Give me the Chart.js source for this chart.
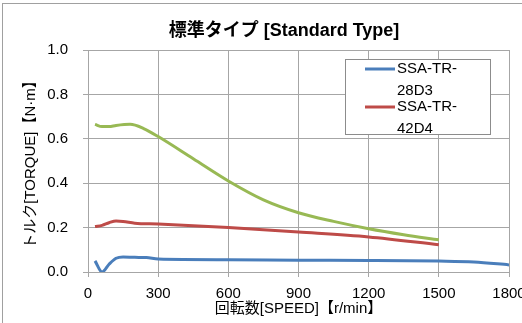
<!DOCTYPE html>
<html>
<head>
<meta charset="utf-8">
<script src="https://cdn.jsdelivr.net/npm/chart.js@4"></script>
<style>
  html, body { margin: 0; padding: 0; background: #fff; overflow: hidden; }
  #wrap { width: 522px; height: 323px; overflow: hidden; position: relative; }
  canvas { display: block; }
</style>
</head>
<body>
<div id="wrap"><canvas id="chart" width="540" height="323"></canvas></div>
<script>
// chart data
const chartTitle = "標準タイプ [Standard Type]";
const xTitle = "回転数[SPEED]【r/min】";
const yTitle = "トルク[TORQUE]【N·m】";
const xTicks = [0, 300, 600, 900, 1200, 1500, 1800];
const yTicks = [0, 0.2, 0.4, 0.6, 0.8, 1.0];

const seriesNames = ["SSA-TR-28D3", "SSA-TR-42D4", ""];
const seriesColors = ["#4a7ebb", "#be4b48", "#98b954"];

const speed28 = [30, 60, 90, 120, 150, 200, 250, 300, 600, 900, 1200, 1500, 1650, 1800];
const torque28 = [0.05, 0.0, 0.035, 0.062, 0.068, 0.066, 0.065, 0.058, 0.055, 0.053, 0.052, 0.049, 0.045, 0.032];

const speed42 = [30, 60, 90, 120, 150, 200, 300, 600, 900, 1200, 1500];
const torque42 = [0.205, 0.21, 0.222, 0.23, 0.228, 0.22, 0.216, 0.2, 0.18, 0.158, 0.123];

const speedG = [30, 60, 90, 120, 180, 240, 300, 450, 600, 750, 900, 1050, 1200, 1350, 1500];
const torqueG = [0.665, 0.655, 0.655, 0.66, 0.665, 0.645, 0.61, 0.51, 0.41, 0.325, 0.267, 0.228, 0.195, 0.168, 0.145];

const FONT = "'Liberation Sans', 'Noto Sans CJK JP', sans-serif";

const toPoints = (xs, ys) => xs.map((x, i) => ({ x: x, y: ys[i] }));

// frame + title
const framePlugin = {
  id: "frame",
  beforeDraw(chart) {
    const ctx = chart.ctx;
    ctx.save();
    ctx.fillStyle = "#fff";
    ctx.fillRect(0, 0, chart.width, chart.height);
    ctx.strokeStyle = "#a0a0a0";
    ctx.lineWidth = 1;
    ctx.strokeRect(2.5, 3.5, 700, 500);
    ctx.restore();
  },
  afterDraw(chart) {
    const ctx = chart.ctx;
    ctx.save();
    ctx.fillStyle = "#000";
    ctx.font = "bold 18px " + FONT;
    ctx.textAlign = "center";
    ctx.textBaseline = "middle";
    ctx.fillText(chartTitle, 284, 31);
    ctx.restore();
  }
};

// legend box inside the plot (only first two series shown)
const legendPlugin = {
  id: "boxLegend",
  afterDraw(chart) {
    const ctx = chart.ctx;
    ctx.save();
    ctx.fillStyle = "#fff";
    ctx.fillRect(345, 59, 145, 75);
    ctx.strokeStyle = "#8c8c8c";
    ctx.lineWidth = 1;
    ctx.strokeRect(345.5, 59.5, 145, 75);
    ctx.font = "15px " + FONT;
    ctx.textBaseline = "middle";
    ctx.textAlign = "left";
    [0, 1].forEach((i) => {
      const y = 69 + i * 38;
      ctx.strokeStyle = seriesColors[i];
      ctx.lineWidth = 3;
      ctx.beginPath();
      ctx.moveTo(365, y);
      ctx.lineTo(395, y);
      ctx.stroke();
      ctx.fillStyle = "#000";
      ctx.fillText(seriesNames[i].slice(0, 7), 397, y);
      ctx.fillText(seriesNames[i].slice(7), 397, y + 22);
    });
    ctx.restore();
  }
};

const datasets = [
  toPoints(speed28, torque28),
  toPoints(speed42, torque42),
  toPoints(speedG, torqueG)
].map((pts, i) => ({
  label: seriesNames[i],
  data: pts,
  borderColor: seriesColors[i],
  backgroundColor: seriesColors[i],
  borderWidth: 3,
  pointRadius: 0,
  cubicInterpolationMode: "monotone",
  fill: false
}));

new Chart(document.getElementById("chart"), {
  type: "line",
  data: { datasets: datasets },
  options: {
    responsive: false,
    animation: false,
    devicePixelRatio: 1,
    layout: { padding: { top: 50, right: 31, bottom: 0, left: 0 } },
    plugins: {
      legend: { display: false },
      title: { display: false },
      tooltip: { enabled: false }
    },
    scales: {
      x: {
        type: "linear",
        min: 0,
        max: 1800,
        afterBuildTicks: (s) => { s.ticks = xTicks.map((v) => ({ value: v })); },
        afterFit: (s) => { s.height = 51; },
        grid: { color: "#a6a6a6", tickLength: 5 },
        border: { display: false },
        ticks: {
          color: "#000",
          font: { family: FONT, size: 15 },
          padding: 8,
          maxRotation: 0,
          callback: (v) => String(v)
        },
        title: {
          display: true,
          text: xTitle,
          color: "#000",
          font: { family: FONT, size: 15 },
          padding: { top: 0, bottom: 5 }
        }
      },
      y: {
        min: 0,
        max: 1,
        afterBuildTicks: (s) => { s.ticks = yTicks.map((v) => ({ value: v })); },
        afterFit: (s) => { s.width = 88; },
        grid: { color: "#a6a6a6", tickLength: 5 },
        border: { display: false },
        ticks: {
          color: "#000",
          font: { family: FONT, size: 15 },
          padding: 15,
          callback: (v) => v.toFixed(1)
        },
        title: {
          display: true,
          text: yTitle,
          color: "#000",
          font: { family: FONT, size: 15 },
          padding: { top: 22, bottom: 0 }
        }
      }
    }
  },
  plugins: [framePlugin, legendPlugin]
});
</script>
</body>
</html>
